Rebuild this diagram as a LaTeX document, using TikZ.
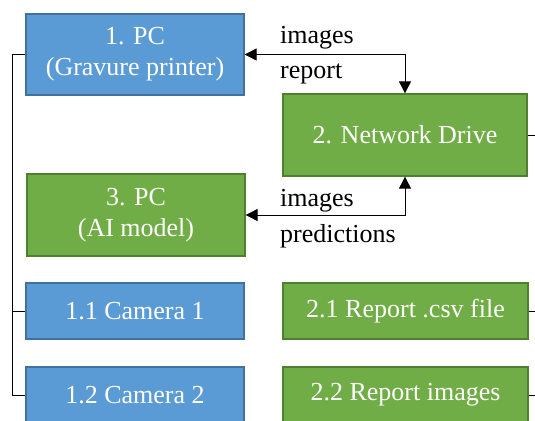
\documentclass[tikz,border=0pt]{standalone}
\usepackage{fontspec}
\setmainfont{Liberation Serif}
\usetikzlibrary{arrows.meta}
\definecolor{bluefill}{HTML}{5B9BD5}
\definecolor{blueedge}{HTML}{41719C}
\definecolor{greenfill}{HTML}{70AD47}
\definecolor{greenedge}{HTML}{507E32}
\tikzset{
  box/.style={draw, line width=1.3pt, text=white, align=center, inner sep=0pt,
    font=\fontsize{26}{31}\selectfont},
  bluebox/.style={box, fill=bluefill, draw=blueedge},
  greenbox/.style={box, fill=greenfill, draw=greenedge},
  lbl/.style={inner sep=0pt, anchor=base west, font=\fontsize{26}{31}\selectfont},
  link/.style={line width=0.9pt, {Triangle[length=12pt,width=12pt]}-{Triangle[length=12pt,width=12pt]}},
  tree/.style={line width=0.9pt}
}
\begin{document}
\begin{tikzpicture}[x=1pt,y=-1pt]
\useasboundingbox (0,0) rectangle (535,420);
\clip (0,0) rectangle (535,420);
% left column
\node[bluebox, minimum width=218pt, minimum height=81pt] (pc1) at (135,54.5) {1. PC\\(Gravure printer)};
\node[greenbox, minimum width=218pt, minimum height=82pt] (pc3) at (136,215) {3. PC\\(AI model)};
\node[bluebox, minimum width=218pt, minimum height=56pt] (cam1) at (135,311) {1.1 Camera 1};
\node[bluebox, minimum width=218pt, minimum height=56pt] (cam2) at (135,395) {1.2 Camera 2};
% right column
\node[greenbox, minimum width=244pt, minimum height=82pt] (nd) at (405,135) {2. Network Drive};
\node[greenbox, minimum width=245pt, minimum height=56pt] (csv) at (405.5,311) {2.1 Report .csv file};
\node[greenbox, minimum width=245pt, minimum height=56pt] (img) at (405.5,395) {2.2 Report images};
% tree coordinates
\coordinate (lt) at (12,54.5);
\coordinate (rt) at (548,135);
% left tree
\draw[tree] (pc1.west) -- (lt) |- (cam2.west);
\draw[tree] (lt |- cam1.west) -- (cam1.west);
% right tree
\draw[tree] (nd.east) -- (rt) |- (img.east);
\draw[tree] (rt |- csv.east) -- (csv.east);
% data exchange
\draw[link] (pc1.east) -| (nd.north);
\draw[link] (pc3.east) -| (nd.south);
\node[lbl] (l1) at (280,44) {images};
\node[lbl] (l2) at (280,78) {report};
\node[lbl] (l3) at (280,206) {images};
\node[lbl] (l4) at (280,242) {predictions};
\end{tikzpicture}
\end{document}
